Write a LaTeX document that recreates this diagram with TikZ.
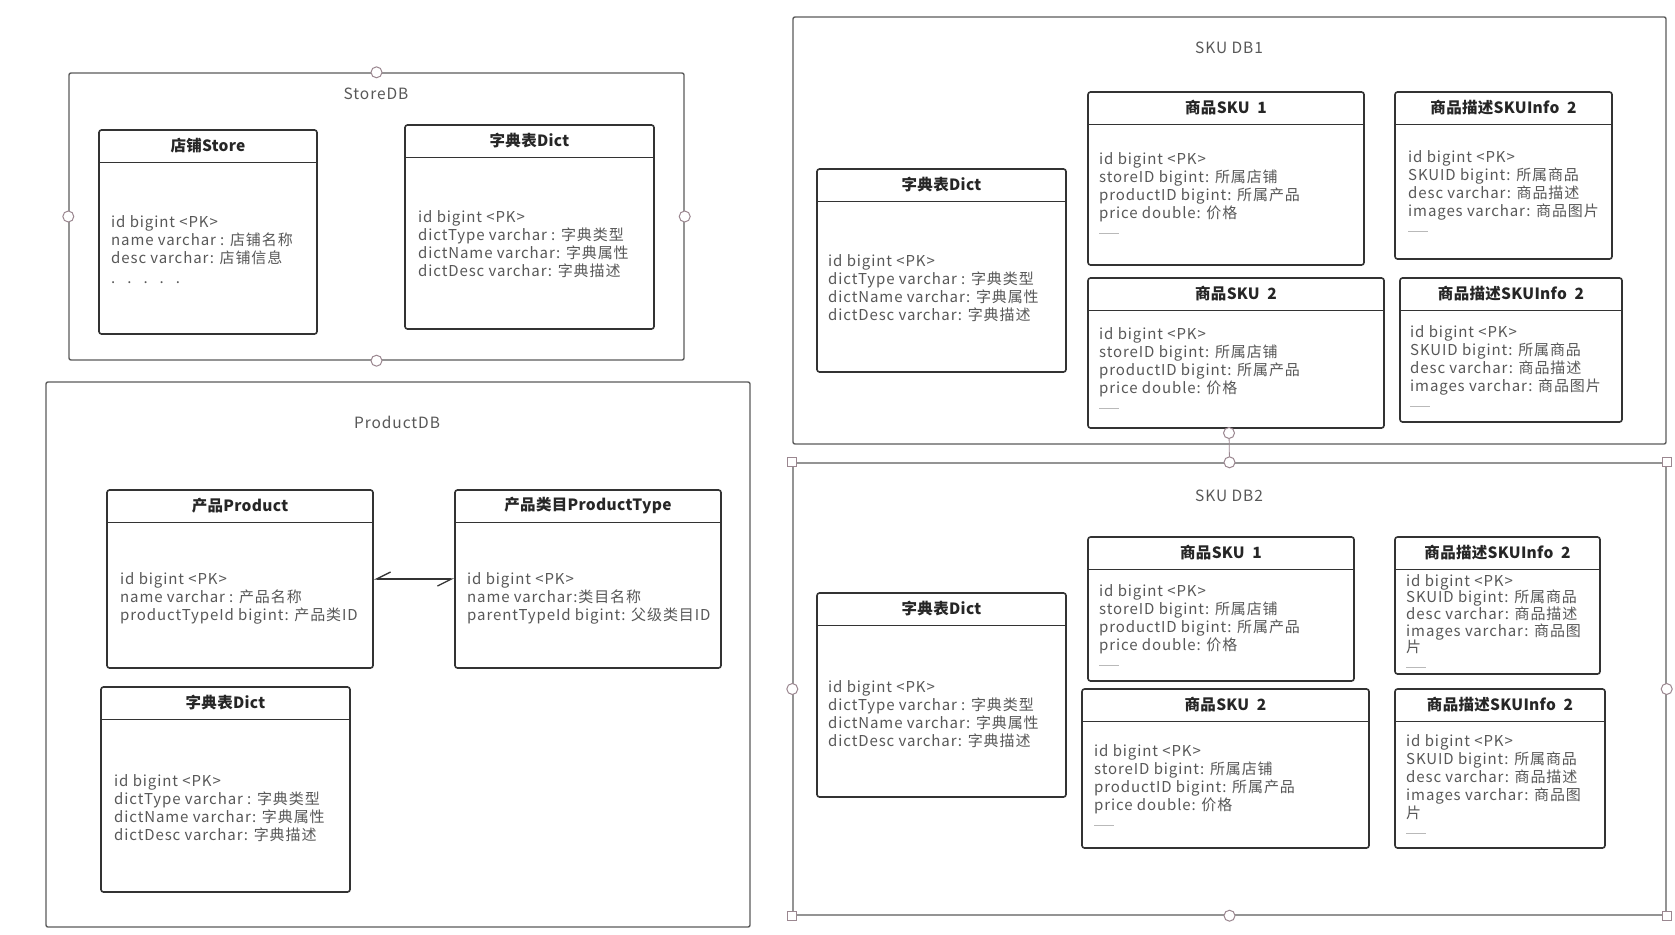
\documentclass[tikz,border=0pt]{standalone}
\usepackage{fontspec}
\setmainfont{Noto Sans CJK SC}
\newfontfamily\attrfont[LetterSpace=6]{Noto Sans CJK SC}
\newfontfamily\hdrfont[LetterSpace=2]{Noto Sans CJK SC}
\usetikzlibrary{arrows.meta}

\definecolor{tblgray}{HTML}{333333}
\definecolor{dbgray}{HTML}{5C5C5C}
\definecolor{txtgray}{HTML}{585858}
\definecolor{hdlgray}{HTML}{9B8790}

% repeated attribute lists
\newcommand{\dashrow}{\textcolor{gray!55}{\rule[2pt]{20pt}{0.8pt}}}
\newcommand{\dictrows}{id bigint <PK>\\dictType varchar : 字典类型\\dictName varchar: 字典属性\\dictDesc varchar: 字典描述}
\newcommand{\skurows}{id bigint <PK>\\storeID bigint: 所属店铺\\productID bigint: 所属产品\\price double: 价格\\\dashrow}

\begin{document}
\begin{tikzpicture}[x=1pt, y=-1pt,
    db/.style={draw=dbgray, line width=1.4pt, rounded corners=2pt},
    dbname/.style={text=txtgray, font=\attrfont\fontsize{15.5}{18}\selectfont},
    tbl/.style={draw=tblgray, line width=1.6pt, rounded corners=2.5pt, fill=white},
    hdr/.style={anchor=north, inner sep=0pt, minimum height=33pt, text=black!85, font=\hdrfont\bfseries\fontsize{15.5}{18}\selectfont},
    split/.style={draw=tblgray, line width=1.6pt},
    attr/.style={anchor=north west, align=left, inner sep=0pt, text=txtgray, font=\attrfont\fontsize{15}{18}\selectfont},
    harp/.style={draw=tblgray, line width=1.3pt, {Straight Barb[harpoon,swap,length=14pt,width=14pt]}-{Straight Barb[harpoon,swap,length=14pt,width=14pt]}},
    handle/.style={circle, draw=hdlgray, fill=white, line width=1pt, inner sep=0pt, minimum size=11pt},
    grip/.style={rectangle, draw=hdlgray, fill=white, line width=1pt, inner sep=0pt, minimum size=9pt}]

    \fill[white] (0,0) rectangle (1675,934);
    \useasboundingbox (0,0) rectangle (1675,934);

    % databases
    \node[db, minimum width=615pt, minimum height=287pt] (storedb) at (376.5,216.5) {};
    \node[db, minimum width=704pt, minimum height=545pt] (productdb) at (398,654.5) {};
    \node[db, minimum width=873pt, minimum height=427pt] (skudb1) at (1229.5,230.5) {};
    \node[db, minimum width=873pt, minimum height=452pt] (skudb2) at (1229.5,689) {};

    \node[dbname] (storedbt) at (376,94) {StoreDB};
    \node[dbname] (productdbt) at (397,422) {ProductDB};
    \node[dbname] (skudb1t) at (1229,48) {SKU DB1};
    \node[dbname] (skudb2t) at (1229,496) {SKU DB2};

    % StoreDB
    \node[tbl, minimum width=218pt, minimum height=204pt] (store) at (208,232) {};
    \node[hdr] (storeh) at (store.north) {店铺Store};
    \draw[split] (store.west |- storeh.south) -- (store.east |- storeh.south);
    \node[attr] (storeb) at (111,215) {id bigint <PK>\\name varchar : 店铺名称\\desc varchar: 店铺信息\\[2pt].\hspace{12pt}.\hspace{12pt}.\hspace{12pt}.\hspace{12pt}.};

    \node[tbl, minimum width=249pt, minimum height=204pt] (sdict) at (529.5,227) {};
    \node[hdr] (sdicth) at (sdict.north) {字典表Dict};
    \draw[split] (sdict.west |- sdicth.south) -- (sdict.east |- sdicth.south);
    \node[attr] (sdictb) at (418,210) {\dictrows};

    % ProductDB
    \node[tbl, minimum width=266pt, minimum height=178pt] (prod) at (240,579) {};
    \node[hdr] (prodh) at (prod.north) {产品Product};
    \draw[split] (prod.west |- prodh.south) -- (prod.east |- prodh.south);
    \node[attr] (prodb) at (120,572) {id bigint <PK>\\name varchar : 产品名称\\productTypeId bigint: 产品类ID};

    \node[tbl, minimum width=266pt, minimum height=178pt] (ptype) at (588,579) {};
    \node[hdr] (ptypeh) at (ptype.north) {产品类目ProductType};
    \draw[split] (ptype.west |- ptypeh.south) -- (ptype.east |- ptypeh.south);
    \node[attr] (ptypeb) at (467,572) {id bigint <PK>\\name varchar:类目名称\\parentTypeId bigint: 父级类目ID};

    \draw[harp] (prod.east) -- (ptype.west);

    \node[tbl, minimum width=249pt, minimum height=205pt] (pdict) at (225.5,789.5) {};
    \node[hdr] (pdicth) at (pdict.north) {字典表Dict};
    \draw[split] (pdict.west |- pdicth.south) -- (pdict.east |- pdicth.south);
    \node[attr] (pdictb) at (114,774) {\dictrows};

    % SKU DB1
    \node[tbl, minimum width=249pt, minimum height=203pt] (adict) at (941.5,270.5) {};
    \node[hdr] (adicth) at (adict.north) {字典表Dict};
    \draw[split] (adict.west |- adicth.south) -- (adict.east |- adicth.south);
    \node[attr] (adictb) at (828,254) {\dictrows};

    \node[tbl, minimum width=276pt, minimum height=173pt] (asku1) at (1226,178.5) {};
    \node[hdr] (asku1h) at (asku1.north) {商品SKU\ \ 1};
    \draw[split] (asku1.west |- asku1h.south) -- (asku1.east |- asku1h.south);
    \node[attr] (asku1b) at (1099,152) {\skurows};

    \node[tbl, minimum width=217pt, minimum height=167pt] (ainfo1) at (1503.5,175.5) {};
    \node[hdr] (ainfo1h) at (ainfo1.north) {商品描述SKUInfo\ \ 2};
    \draw[split] (ainfo1.west |- ainfo1h.south) -- (ainfo1.east |- ainfo1h.south);
    \node[attr] (ainfo1b) at (1408,150) {id bigint <PK>\\SKUID bigint: 所属商品\\desc varchar: 商品描述\\images varchar: 商品图片\\\dashrow};

    \node[tbl, minimum width=296pt, minimum height=150pt] (asku2) at (1236,353) {};
    \node[hdr] (asku2h) at (asku2.north) {商品SKU\ \ 2};
    \draw[split] (asku2.west |- asku2h.south) -- (asku2.east |- asku2h.south);
    \node[attr] (asku2b) at (1099,327) {\skurows};

    \node[tbl, minimum width=222pt, minimum height=144pt] (ainfo2) at (1511,350) {};
    \node[hdr] (ainfo2h) at (ainfo2.north) {商品描述SKUInfo\ \ 2};
    \draw[split] (ainfo2.west |- ainfo2h.south) -- (ainfo2.east |- ainfo2h.south);
    \node[attr] (ainfo2b) at (1410,325) {id bigint <PK>\\SKUID bigint: 所属商品\\desc varchar: 商品描述\\images varchar: 商品图片\\\dashrow};

    % SKU DB2
    \node[tbl, minimum width=249pt, minimum height=204pt] (bdict) at (941.5,695) {};
    \node[hdr] (bdicth) at (bdict.north) {字典表Dict};
    \draw[split] (bdict.west |- bdicth.south) -- (bdict.east |- bdicth.south);
    \node[attr] (bdictb) at (828,680) {\dictrows};

    \node[tbl, minimum width=266pt, minimum height=144pt] (bsku1) at (1221,609) {};
    \node[hdr] (bsku1h) at (bsku1.north) {商品SKU\ \ 1};
    \draw[split] (bsku1.west |- bsku1h.south) -- (bsku1.east |- bsku1h.south);
    \node[attr] (bsku1b) at (1099,584) {\skurows};

    \node[tbl, minimum width=205pt, minimum height=137pt] (binfo1) at (1497.5,605.5) {};
    \node[hdr] (binfo1h) at (binfo1.north) {商品描述SKUInfo\ \ 2};
    \draw[split] (binfo1.west |- binfo1h.south) -- (binfo1.east |- binfo1h.south);
    \node[attr, font=\attrfont\fontsize{15}{16.7}\selectfont] (binfo1b) at (1406,574) {id bigint <PK>\\SKUID bigint: 所属商品\\desc varchar: 商品描述\\images varchar: 商品图\\片\\\dashrow};

    \node[tbl, minimum width=287pt, minimum height=159pt] (bsku2) at (1225.5,768.5) {};
    \node[hdr] (bsku2h) at (bsku2.north) {商品SKU\ \ 2};
    \draw[split] (bsku2.west |- bsku2h.south) -- (bsku2.east |- bsku2h.south);
    \node[attr] (bsku2b) at (1094,744) {\skurows};

    \node[tbl, minimum width=210pt, minimum height=159pt] (binfo2) at (1500,768.5) {};
    \node[hdr] (binfo2h) at (binfo2.north) {商品描述SKUInfo\ \ 2};
    \draw[split] (binfo2.west |- binfo2h.south) -- (binfo2.east |- binfo2h.south);
    \node[attr] (binfo2b) at (1406,734) {id bigint <PK>\\SKUID bigint: 所属商品\\desc varchar: 商品描述\\images varchar: 商品图\\片\\\dashrow};

    % selection handles
    \foreach \a in {north,south,west,east}
        \node[handle] at (storedb.\a) {};
    \node[handle] (rot) at (1229,433) {};
    \draw[draw=hdlgray, line width=0.8pt] (rot) -- (skudb2.north);
    \foreach \a in {north,south,west,east}
        \node[handle] at (skudb2.\a) {};
    \foreach \a in {north west,north east,south west,south east}
        \node[grip] at (skudb2.\a) {};
\end{tikzpicture}
\end{document}
